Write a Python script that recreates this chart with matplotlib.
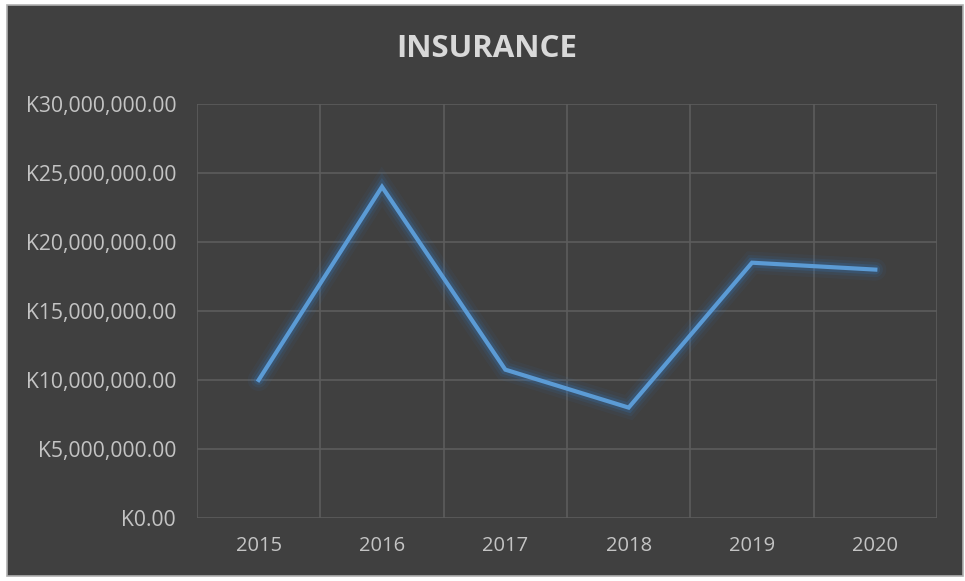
import matplotlib
matplotlib.use("Agg")
import matplotlib.pyplot as plt
from matplotlib.patches import Rectangle
from matplotlib.ticker import FuncFormatter, MultipleLocator
import numpy as np

# Insurance figures per year (kwacha)
years = ["2015", "2016", "2017", "2018", "2019", "2020"]
insurance = [10_000_000, 24_000_000, 10_750_000, 8_000_000, 18_500_000, 18_000_000]

BG = "#404040"
GRID = "#5c5c5c"
TEXT = "#c4c4c4"
LINE = "#5b9bd5"

plt.rcParams["font.family"] = ["Open Sans", "DejaVu Sans"]

fig = plt.figure(figsize=(9.65, 5.81), dpi=100, facecolor="white")
# dark chart area with a thin light border
fig.patches.append(Rectangle((7 / 965, 5 / 581), 956 / 965, 571 / 581,
                             transform=fig.transFigure, facecolor=BG,
                             edgecolor="#b0b0b0", lw=1.2, zorder=-10))

ax = fig.add_axes([197 / 965, 1 - 518 / 581, 740 / 965, 414 / 581])
ax.set_facecolor(BG)

x = np.arange(len(years))

# soft glow behind the line
for lw, a in [(16, 0.06), (11, 0.10), (7, 0.20)]:
    ax.plot(x, insurance, color="#2f7fd0", lw=lw, alpha=a,
            solid_capstyle="round", solid_joinstyle="miter", zorder=3)
ax.plot(x, insurance, color=LINE, lw=3, solid_joinstyle="miter", zorder=4)

ax.set_xlim(-0.5, len(years) - 0.5)
ax.set_ylim(0, 30_000_000)
ax.set_xticks(x)
ax.set_xticklabels(years)
ax.yaxis.set_major_locator(MultipleLocator(5_000_000))
ax.yaxis.set_major_formatter(FuncFormatter(lambda v, p: f"K{v:,.2f}"))

# Excel-style gridlines: horizontal at values, vertical between categories
ax.set_xticks(np.arange(-0.5, len(years)), minor=True)
ax.grid(which="major", axis="y", color=GRID, lw=1.2)
ax.grid(which="minor", axis="x", color=GRID, lw=1.2)
ax.set_axisbelow(True)

ax.tick_params(axis="both", which="both", length=0, colors=TEXT)
ax.tick_params(axis="x", pad=13, labelsize=14.5)
ax.tick_params(axis="y", pad=15, labelsize=15.2)
for s in ax.spines.values():
    s.set_visible(False)

fig.text(487 / 965, 1 - 49 / 581, "INSURANCE", ha="center", va="center",
         fontsize=22.5, fontweight="bold", color="#d9d9d9")

fig.savefig("out.png", dpi=100, facecolor="white")
